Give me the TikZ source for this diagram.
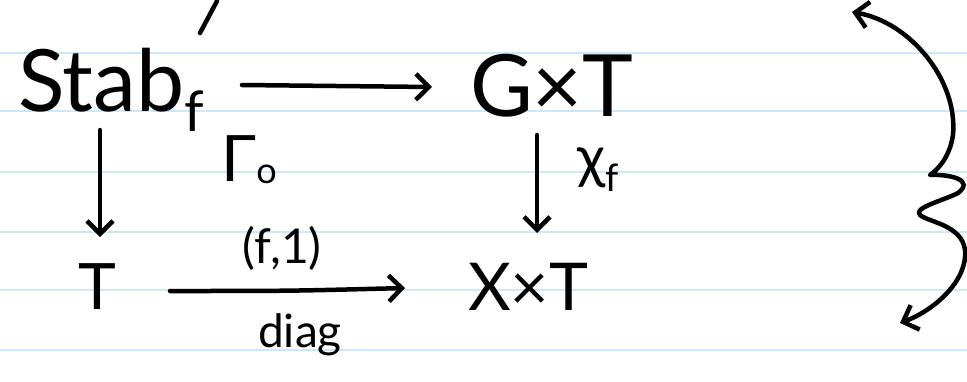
\documentclass[tikz,border=0pt]{standalone}
\usepackage{fontspec}
\setmainfont{Lato}
\usetikzlibrary{arrows.meta}
\definecolor{ruleblue}{HTML}{CDE8F8}
\begin{document}
\begin{tikzpicture}[x=1pt,y=-1pt,
  ink/.style={line width=4.5pt, line cap=round, line join=round},
  tip/.tip={Straight Barb[length=13pt,width=26pt]},
  arr/.style={ink, -tip},
  obj/.style={inner sep=0pt, outer sep=0pt, anchor=base west, align=left, text depth=0pt},
  lbl/.style={inner sep=0pt, outer sep=0pt},
  rule line/.style={ruleblue, line width=2pt}
]
\useasboundingbox (0,0) rectangle (967,381);
% ruled paper
\foreach \yy in {53,111,172,232,290,350}
  \draw[rule line] (0,\yy) -- (967,\yy);

% objects of the square
\node[obj, font=\fontsize{86}{90}\selectfont, text width=174pt, text height=62pt] (stab) at (18,111)
  {Stab\raisebox{-20pt}{\fontsize{56}{60}\selectfont f}};
\node[obj, font=\fontsize{86}{90}\selectfont, text width=150pt, text height=62pt] (gxt) at (470,116) {G×T};
\node[obj, font=\fontsize{64}{70}\selectfont, text width=62pt, text height=42pt] (t) at (78,309) {T};
\node[obj, font=\fontsize{66}{70}\selectfont, text width=122pt, text height=48pt] (xxt) at (468,310) {X×T};

% arrows
\draw[arr] ([xshift=50pt,yshift=-5pt]stab.east) -- ([xshift=-38pt,yshift=-2pt]gxt.west);
\draw[arr] ([xshift=-5pt,yshift=-19pt]stab.south) -- ([xshift=-9pt,yshift=30pt]t.north);
\draw[arr] ([xshift=-8pt,yshift=-19pt]gxt.south) -- ([xshift=8pt,yshift=29pt]xxt.north);
\draw[arr] ([xshift=30pt,yshift=-3pt]t.east) .. controls ([xshift=150pt,yshift=-3pt]t.east) .. ([xshift=-63pt,yshift=-2pt]xxt.west);

% labels
\node[lbl, font=\fontsize{64}{70}\selectfont] (gamma) at (249,160) {Γ\raisebox{-2pt}{\fontsize{36}{40}\selectfont o}};
\node[lbl, font=\fontsize{58}{64}\selectfont] (chi) at (598,170) {χ\raisebox{-14pt}{\fontsize{38}{42}\selectfont f}};
\node[lbl, font=\fontsize{48}{54}\selectfont] (f1) at (282,248) {(f,1)};
\node[lbl, font=\fontsize{46}{52}\selectfont] (diag) at (300,335) {diag};

% stray stroke at the top
\draw[ink] (200,33) -- (217,1);

% brace on the right
\draw[ink, tip-tip] (852,12) .. controls (910,22) and (958,80) .. (953,135)
  .. controls (950,155) and (940,168) .. (930,175)
  .. controls (950,174) and (975,180) .. (958,193)
  .. controls (945,200) and (912,208) .. (920,215)
  .. controls (928,222) and (962,225) .. (965,250)
  .. controls (968,280) and (935,310) .. (900,323);
\end{tikzpicture}
\end{document}
